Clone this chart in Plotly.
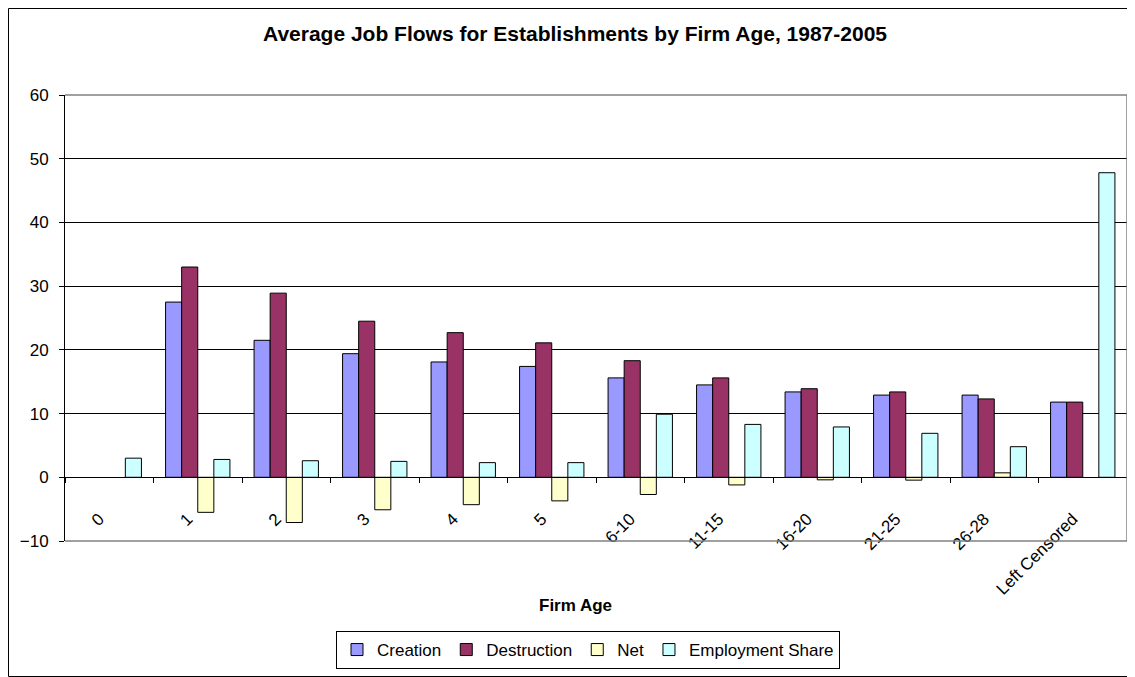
import plotly.graph_objects as go

categories = ["0", "1", "2", "3", "4", "5", "6-10", "11-15", "16-20", "21-25", "26-28", "Left Censored"]
creation = [None, 27.5, 21.5, 19.4, 18.1, 17.4, 15.6, 14.5, 13.4, 12.9, 12.9, 11.8]
destruction = [None, 33.0, 28.9, 24.5, 22.7, 21.1, 18.3, 15.6, 13.9, 13.4, 12.3, 11.8]
net = [None, -5.5, -7.1, -5.1, -4.3, -3.7, -2.7, -1.2, -0.4, -0.45, 0.7, None]
employment_share = [3.0, 2.8, 2.6, 2.5, 2.3, 2.3, 9.9, 8.3, 7.9, 6.9, 4.8, 47.8]

series = [
    ("Creation", creation, "#9999FF"),
    ("Destruction", destruction, "#993366"),
    ("Net", net, "#FFFFCC"),
    ("Employment Share", employment_share, "#CCFFFF"),
]

FONT = "Liberation Sans, Arial, sans-serif"

fig = go.Figure()
for name, vals, color in series:
    fig.add_trace(go.Bar(
        x=categories, y=vals, name=name,
        marker=dict(color=color, line=dict(color="#000000", width=1)),
    ))

# page body has an 8px margin; figure coordinates are page - 8
OFF = 8
W, H = 1135 - OFF, 677 - OFF
L, T = 65 - OFF, 95 - OFF
R = W - (1127 - OFF)
B = H - (541 - OFF)
pw = W - L - R
ph = H - T - B
plot_bottom = T + ph


def px_x(x):
    return (x - OFF - L) / pw


def px_y(y):
    return (plot_bottom - (y - OFF)) / ph


fig.update_layout(
    width=W, height=H,
    margin=dict(l=L, r=R, t=T, b=B, autoexpand=False),
    paper_bgcolor="white", plot_bgcolor="white",
    barmode="group", bargap=0.2727, bargroupgap=0,
    font=dict(family=FONT, size=17, color="#000000"),
    title=dict(
        text="<b>Average Job Flows for Establishments by Firm Age, 1987-2005</b>",
        x=(575 - OFF) / W, xanchor="center", y=1 - (34 - OFF) / H, yanchor="middle",
        font=dict(family=FONT, size=21, color="#000000"),
    ),
    showlegend=True,
    legend=dict(
        orientation="h", x=px_x(588), xanchor="center",
        y=px_y(631), yanchor="top",
        bordercolor="#000000", borderwidth=1,
        font=dict(family=FONT, size=17), traceorder="normal",
        itemwidth=30, tracegroupgap=0,
    ),
    xaxis=dict(
        type="category", anchor="free", position=10 / 70,
        showline=True, linecolor="#000000", linewidth=1,
        ticks="outside", tickson="boundaries", ticklen=5, tickcolor="#000000",
        tickangle=-45, showgrid=False, zeroline=False,
        ticklabelstandoff=14, ticksuffix="\u00a0\u00a0\u00a0",
        tickfont=dict(family=FONT, size=17),
    ),
    yaxis=dict(
        range=[-10, 60], dtick=10, tick0=0,
        showline=True, linecolor="#000000", linewidth=1,
        ticks="outside", ticklen=5, tickcolor="#000000",
        ticklabelstandoff=7,
        showgrid=True, gridcolor="#000000", gridwidth=1,
        zeroline=False,
        tickfont=dict(family=FONT, size=17),
    ),
    annotations=[dict(
        text="<b>Firm Age</b>", xref="paper", yref="paper",
        x=px_x(575), y=px_y(605),
        xanchor="center", yanchor="middle", showarrow=False,
        font=dict(family=FONT, size=17, color="#000000"),
    )],
    shapes=[
        # plot-area border (top, right, bottom) in grey
        dict(type="line", xref="paper", yref="paper", x0=0, x1=1, y0=1, y1=1,
             line=dict(color="#808080", width=1.5), layer="above"),
        dict(type="line", xref="paper", yref="paper", x0=1, x1=1, y0=0, y1=1,
             line=dict(color="#808080", width=1.5), layer="above"),
        dict(type="line", xref="paper", yref="paper", x0=0, x1=1, y0=0, y1=0,
             line=dict(color="#808080", width=1.5), layer="above"),
        # outer chart frame
        dict(type="rect", xref="paper", yref="paper",
             x0=(0.5 - L) / pw, x1=(1132 - OFF - L) / pw,
             y0=(plot_bottom - (H - 0.5)) / ph, y1=(plot_bottom - 0.5) / ph,
             line=dict(color="#000000", width=1), layer="below"),
    ],
)

fig.write_html("out.html")
